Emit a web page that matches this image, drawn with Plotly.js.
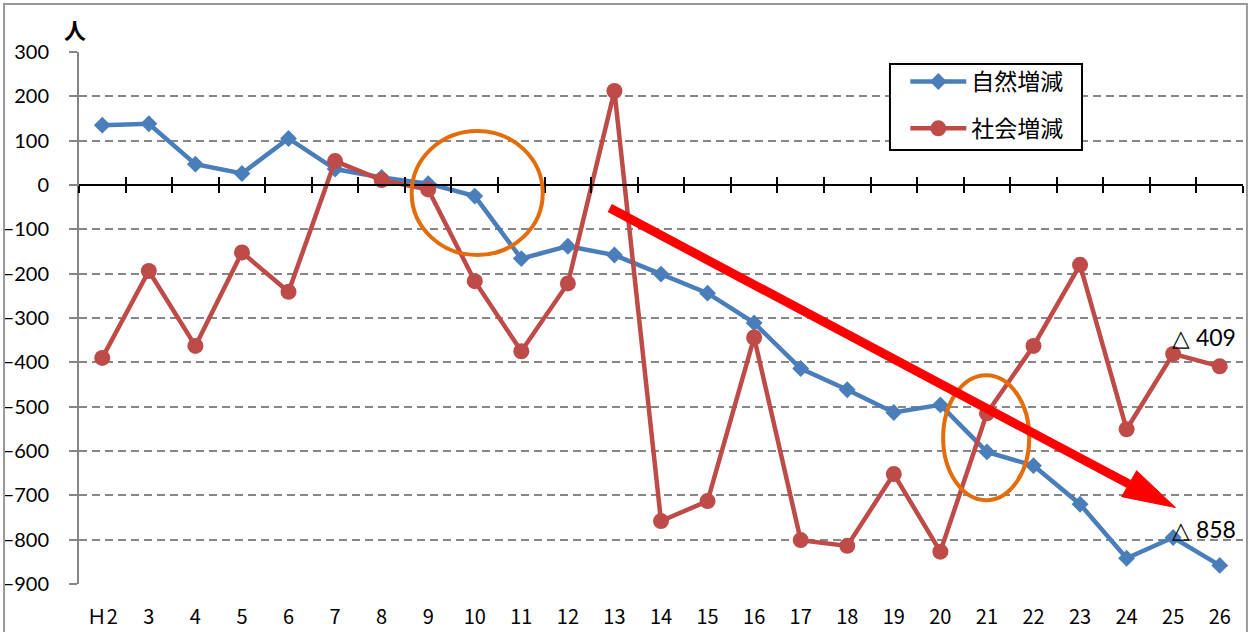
<!DOCTYPE html>
<html>
<head>
<meta charset="utf-8">
<script src="https://cdn.plot.ly/plotly-3.0.1.min.js"></script>
<style>html,body{margin:0;padding:0;background:#fff;}#chart{width:1252px;height:632px;}</style>
</head>
<body>
<div id="chart"></div>
<script>
const categories = ['Ｈ2','3','4','5','6','7','8','9','10','11','12','13','14','15','16','17','18','19','20','21','22','23','24','25','26'];
const naturalChange = [135,138,47,26,105,36,17,3,-25,-166,-138,-158,-201,-244,-311,-414,-462,-513,-496,-602,-633,-720,-842,-795,-858];
const socialChange = [-390,-194,-363,-152,-241,54,11,-10,-217,-375,-222,212,-758,-713,-344,-801,-814,-652,-827,-515,-363,-180,-551,-381,-409];
const seriesNames = ['自然増減','社会増減'];
const yUnit = '人';

const BLUE = '#4A7EBB', RED = '#BE4B48', ORANGE = '#E46C0A';
const n = categories.length;

const traces = [
  {x: categories, y: naturalChange, name: seriesNames[0], type: 'scatter', mode: 'lines+markers',
   line: {color: BLUE, width: 4.5}, marker: {symbol: 'diamond', size: 13, color: BLUE},
   legendgroup: 'a'},
  {x: categories, y: socialChange, name: seriesNames[1], type: 'scatter', mode: 'lines+markers',
   line: {color: RED, width: 4.5}, marker: {symbol: 'circle', size: 16, color: RED},
   legendgroup: 'b'},
  {x: [null], y: [null], xaxis: 'x2', yaxis: 'y', showlegend: false, hoverinfo: 'skip', mode: 'markers'},
  {x: [null], y: [null], xaxis: 'x3', yaxis: 'y', showlegend: false, hoverinfo: 'skip', mode: 'markers'}
];

const yMin = -900, yMax = 300;
const zeroPos = (0 - yMin) / (yMax - yMin);
const tickAxis = (dir) => ({
  overlaying: 'x', anchor: 'free', position: zeroPos, type: 'linear',
  range: [-0.5, n - 0.5], tick0: -0.5, dtick: 1, ticks: dir, ticklen: 7, tickwidth: 2,
  tickcolor: '#000', showline: true, linecolor: '#000', linewidth: 2,
  showgrid: false, zeroline: false, showticklabels: false, fixedrange: true
});

const last = n - 1;
const layout = {
  width: 1252, height: 632,
  margin: {l: 79, r: 9, t: 52, b: 48},
  paper_bgcolor: '#fff', plot_bgcolor: '#fff',
  showlegend: true,
  legend: {x: 0.7099, y: 0.985, xanchor: 'left', yanchor: 'top', bgcolor: 'rgba(0,0,0,0)',
           borderwidth: 0, tracegroupgap: 14, itemwidth: 56,
           font: {family: 'Noto Sans CJK JP', size: 23, color: '#000'}},
  xaxis: {type: 'category', range: [-0.5, n - 0.5], showgrid: false, showline: false, zeroline: false,
          ticks: '', ticklabelstandoff: 19,
          tickfont: {family: 'Noto Sans CJK JP', size: 20, color: '#000'}},
  xaxis2: tickAxis('outside'),
  xaxis3: tickAxis('inside'),
  yaxis: {range: [yMin, yMax], dtick: 100, tick0: 0, showgrid: true, gridcolor: '#868686', gridwidth: 2,
          griddash: '8px,5px', zeroline: false, showline: true, linecolor: '#868686', linewidth: 2,
          ticks: 'outside', ticklen: 8, tickcolor: '#868686', tickwidth: 2, ticklabelstandoff: 16,
          tickfont: {family: 'Lato', size: 20, color: '#000'}},
  annotations: [
    {text: yUnit, xref: 'paper', yref: 'paper', x: -0.0034, y: 1.043, showarrow: false,
     xanchor: 'center', yanchor: 'middle', font: {family: 'Noto Sans CJK JP', size: 22, color: '#000', weight: 'bold'}},
    {text: '△ ' + Math.abs(socialChange[last]), xref: 'x2', yref: 'y', x: last, y: socialChange[last],
     showarrow: false, xanchor: 'right', yanchor: 'middle', xshift: 18, yshift: 29,
     font: {family: 'Lato', size: 23, color: '#000'}},
    {text: '△ ' + Math.abs(naturalChange[last]), xref: 'x2', yref: 'y', x: last, y: naturalChange[last],
     showarrow: false, xanchor: 'right', yanchor: 'middle', xshift: 18, yshift: 36,
     font: {family: 'Lato', size: 23, color: '#000'}}
  ],
  shapes: [
    {type: 'rect', xref: 'paper', yref: 'paper', x0: -0.0644, x1: 1.0034, y0: -0.12, y1: 1.0902,
     line: {color: '#999', width: 2}, fillcolor: 'rgba(0,0,0,0)'},
    {type: 'rect', xref: 'paper', yref: 'paper', x0: 0.6967, x1: 0.8617, y0: 0.8158, y1: 0.9774,
     line: {color: '#000', width: 2}, fillcolor: '#fff'},
    {type: 'circle', xref: 'x2', yref: 'y', x0: 6.645, x1: 9.46, y0: -158, y1: 122,
     line: {color: ORANGE, width: 4}},
    {type: 'circle', xref: 'x2', yref: 'y', x0: 18.06, x1: 19.91, y0: -711, y1: -429,
     line: {color: ORANGE, width: 4}},
    {type: 'line', xref: 'x2', yref: 'y', x0: 10.90, y0: -52, x1: 22.05, y1: -674.5,
     line: {color: '#FF0000', width: 9}},
    {type: 'path', xref: 'x2', yref: 'y', path: 'M 21.894,-703 L 22.216,-644.5 L 23.05,-727.5 Z',
     fillcolor: '#FF0000', line: {color: '#FF0000', width: 1}}
  ]
};

Plotly.newPlot('chart', traces, layout, {displayModeBar: false, staticPlot: true});
</script>
</body>
</html>
